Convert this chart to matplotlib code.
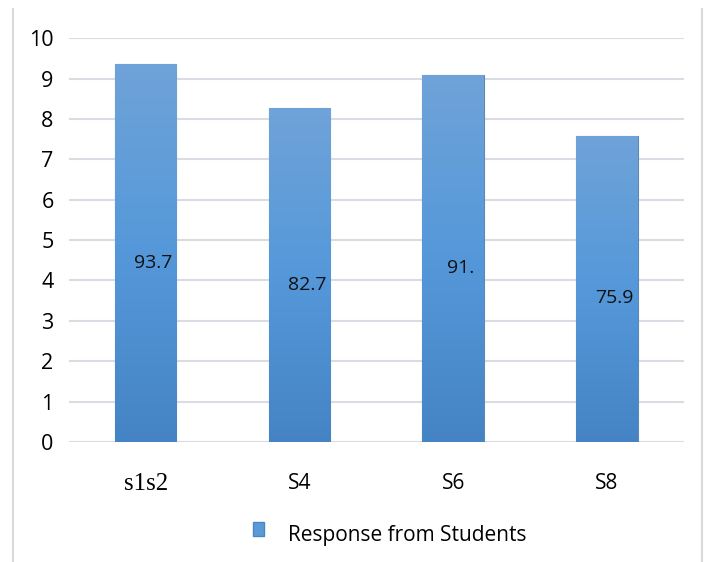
import numpy as np
import matplotlib.pyplot as plt
from matplotlib.colors import LinearSegmentedColormap
from matplotlib.patches import Rectangle
from matplotlib.lines import Line2D
from matplotlib.legend_handler import HandlerPatch

categories = ['s1s2', 'S4', 'S6', 'S8']
values = [9.37, 8.27, 9.1, 7.59]
bar_labels = ['93.7', '82.7', '91.', '75.9']
series_name = 'Response from Students'

fig = plt.figure(figsize=(7.1, 5.62), dpi=100)
ax = fig.add_axes([0.097, 0.2135, 0.866, 0.7185])

x = np.arange(len(categories))
bars = ax.bar(x, values, width=0.4, color='#5b9bd5', edgecolor='#5f87b5', linewidth=0.8, zorder=3)

# vertical gradient inside each bar, like the office chart fill
cmap = LinearSegmentedColormap.from_list('bar', ['#4584c4', '#5598da', '#6fa3d8'])
grad = np.linspace(0, 1, 256).reshape(-1, 1)
for b in bars:
    x0, w, h = b.get_x(), b.get_width(), b.get_height()
    im = ax.imshow(grad, cmap=cmap, origin='lower', aspect='auto',
                   extent=[x0, x0 + w, 0, h], zorder=3.5)
    im.set_clip_path(b)

for xi, v, lab in zip(x, values, bar_labels):
    ax.text(xi + 0.05, v / 2 - 0.24, lab, ha='center', va='center',
            fontsize=14, family='Open Sans', color='#111111', zorder=5)

ax.set_xlim(-0.5, len(categories) - 0.5)
ax.set_ylim(0, 10)
ax.set_yticks(range(0, 11))
ax.yaxis.grid(True, color='#d9dde3', linewidth=1.5, zorder=0)
ax.set_axisbelow(True)
for s in ax.spines.values():
    s.set_visible(False)
ax.tick_params(axis='both', length=0)
ax.tick_params(axis='y', pad=11, labelsize=15.5)
ax.tick_params(axis='x', pad=22, labelsize=15)
for t in ax.get_yticklabels():
    t.set_family('Open Sans')
ax.set_xticks(x)
ax.set_xticklabels(categories)
for i, t in enumerate(ax.get_xticklabels()):
    if i == 0:
        t.set_family('Liberation Serif')
        t.set_fontsize(18)
    else:
        t.set_family('Open Sans')


def raised_box(legend, orig_handle, xdescent, ydescent, width, height, fontsize):
    return Rectangle((-xdescent, -ydescent + 3), width, height)


handle = Rectangle((0, 0), 1, 1, facecolor='#5b9bd5', edgecolor='#4a86c5')
fig.legend([handle], [series_name], loc='center', bbox_to_anchor=(0.549, 0.048),
           frameon=False, handlelength=0.5, handleheight=0.7, handletextpad=1.15,
           handler_map={Rectangle: HandlerPatch(patch_func=raised_box)},
           prop={'family': 'Open Sans', 'size': 15})

# light grey frame lines at left and right edge
fig.add_artist(Line2D([13 / 710, 13 / 710], [0, 1 - 9 / 562], transform=fig.transFigure,
                      color='#d9d9d9', linewidth=1.5))
fig.add_artist(Line2D([702 / 710, 702 / 710], [0, 1 - 9 / 562], transform=fig.transFigure,
                      color='#d9d9d9', linewidth=1.5))

plt.savefig('out.png', dpi=100)
